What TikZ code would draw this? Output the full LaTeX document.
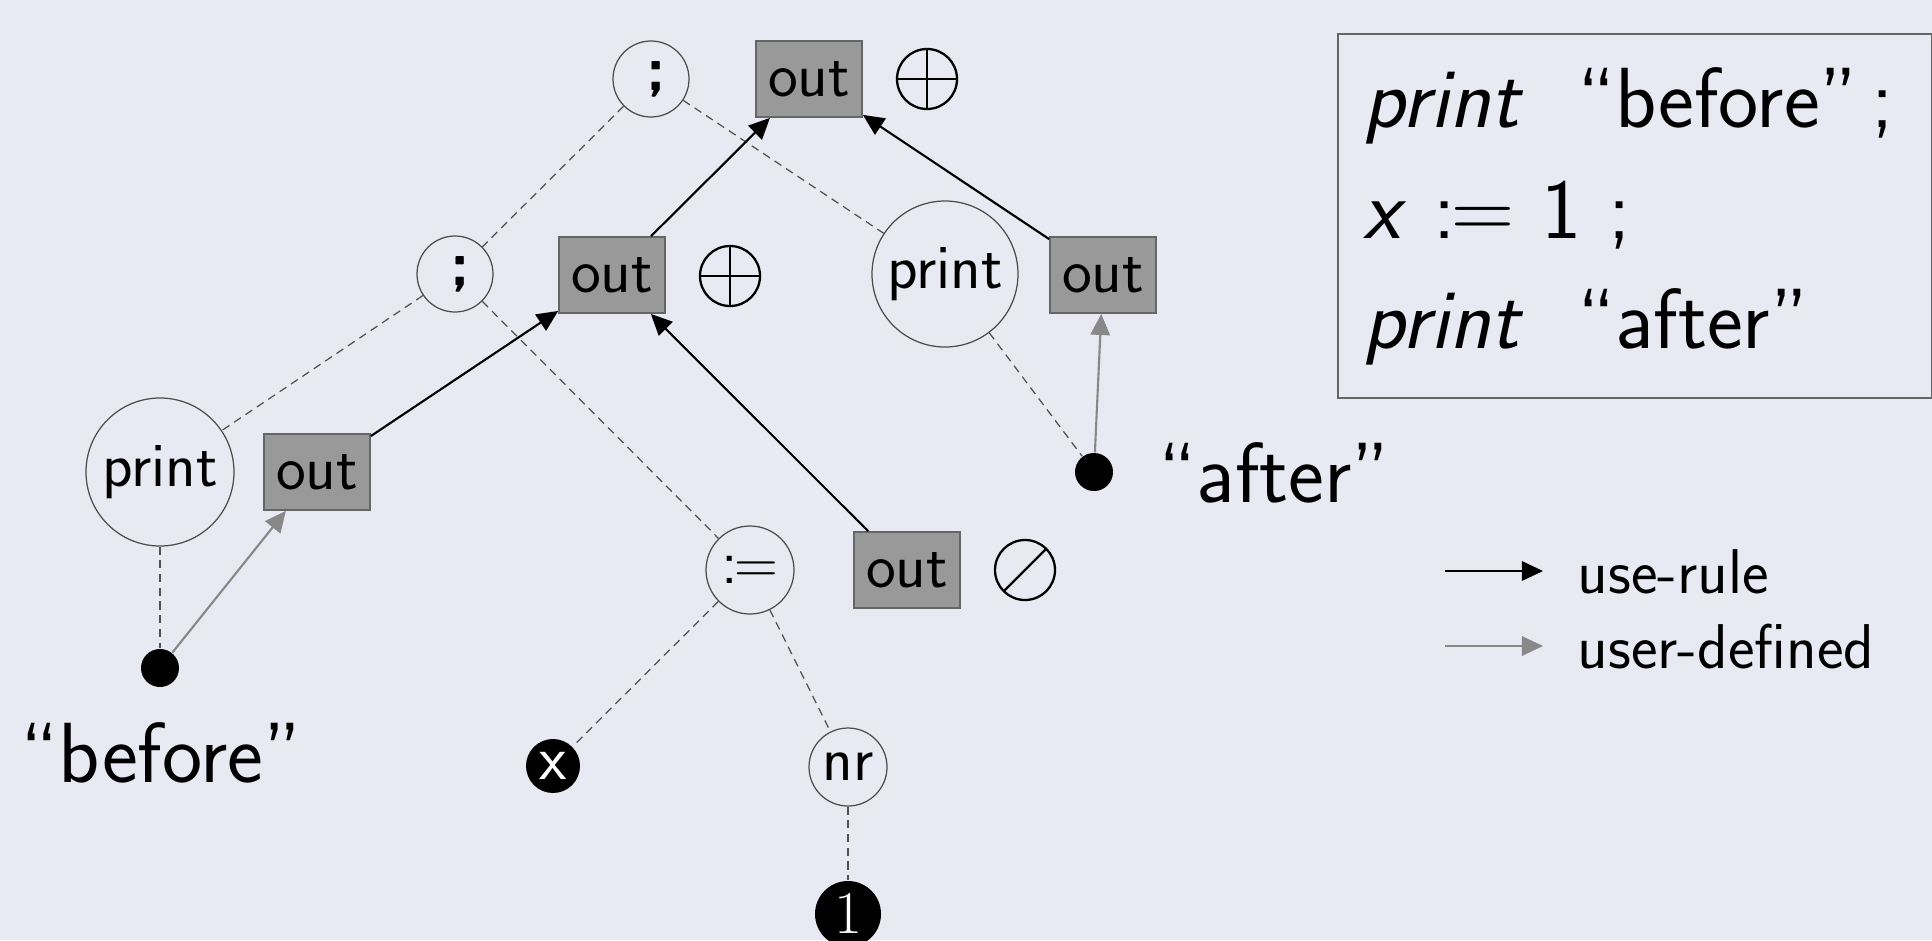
\documentclass[tikz,border=0pt]{standalone}
\usepackage{amssymb,amsmath}
\usepackage{tikz}
\usetikzlibrary{arrows.meta}

\definecolor{slidebg}{RGB}{233,233,243}
\definecolor{outgray}{RGB}{153,153,153}
\definecolor{usergray}{RGB}{136,136,136}
\definecolor{treegray}{RGB}{80,80,80}

\newcommand{\smallsz}{\fontsize{18}{21}\selectfont}
\newcommand{\bigsz}{\fontsize{24.3}{31}\selectfont}

\begin{document}
\begin{tikzpicture}[
            > = {Triangle[length=6pt,width=5.5pt]}, % arrow head style
            font = \sffamily\smallsz,
            ast/.style = {shape=circle, draw=black!70, line width=0.35pt, inner sep=0pt},
            outbox/.style = {shape=rectangle, draw=black!60, fill=outgray, line width=0.5pt,
                             minimum width=1.06cm, minimum height=0.76cm, inner sep=0pt},
            leaf/.style = {shape=circle, fill=black, text=white, inner sep=0pt},
            opnode/.style = {shape=circle, draw=black, line width=0.65pt, minimum size=0.6cm, inner sep=0pt},
            tree/.style = {color=treegray, line width=0.35pt, dash pattern=on 2.3pt off 1.6pt},
            userule/.style = {->, color=black, line width=0.6pt},
            userdef/.style = {->, color=usergray, line width=0.6pt}
        ]
\fill[slidebg] (0,0) rectangle (19.32,9.40);
\useasboundingbox (0,0) rectangle (19.32,9.40);

% syntax tree
\node[ast, minimum size=0.76cm] (semiTop) at (6.51,8.61) {\,\textbf{;}};
\node[ast, minimum size=0.76cm] (semiMid) at (4.55,6.66) {\,\textbf{;}};
\node[ast, minimum size=1.46cm] (printR) at (9.45,6.66) {print};
\node[ast, minimum size=1.48cm] (printL) at (1.60,4.68) {print};
\node[ast, minimum size=0.88cm] (assign) at (7.50,3.70) {:\kern-0.05em$=$};
\node[ast, minimum size=0.78cm] (nr) at (8.48,1.73) {nr};
\node[leaf, minimum size=0.38cm] (dotBefore) at (1.60,2.72) {};
\node[leaf, minimum size=0.38cm] (dotAfter) at (10.94,4.68) {};
\node[leaf, minimum size=0.54cm] (xleaf) at (5.53,1.74) {x};
\node[leaf, minimum size=0.66cm] (one) at (8.48,0.26) {$1$};

% attribute boxes
\node[outbox] (outTop) at (8.09,8.61) {out};
\node[outbox] (outMid) at (6.12,6.65) {out};
\node[outbox] (outR) at (11.03,6.65) {out};
\node[outbox] (outL) at (3.17,4.68) {out};
\node[outbox] (outB) at (9.07,3.70) {out};

% operators
\node[opnode, path picture={\draw (path picture bounding box.north) -- (path picture bounding box.south)
      (path picture bounding box.west) -- (path picture bounding box.east);}] (plusTop) at (9.27,8.61) {};
\node[opnode, path picture={\draw (path picture bounding box.north) -- (path picture bounding box.south)
      (path picture bounding box.west) -- (path picture bounding box.east);}] (plusMid) at (7.30,6.64) {};
\node[opnode, path picture={\draw (path picture bounding box.south west) -- (path picture bounding box.north east);}]
      (emptyB) at (10.25,3.70) {};

% strings
\node[anchor=base west, inner sep=0pt, font=\sffamily\bigsz] (afterText) at (11.58,4.38) {``after''};
\node[anchor=base west, inner sep=0pt, font=\sffamily\bigsz] (beforeText) at (0.20,1.58) {``before''};

 \path [tree] (semiTop) edge (semiMid);
 \path [tree] (semiTop) edge (printR);
 \path [tree] (semiMid) edge (printL);
 \path [tree] (semiMid) edge (assign);
 \path [tree] (assign) edge (xleaf);
 \path [tree] (assign) edge (nr);
 \path [tree] (nr) edge (one);
 \path [tree] (printL) edge (dotBefore);
 \path [tree] (printR) edge (dotAfter);

 \path [userule] (outMid) edge (outTop);
 \path [userule] (outR) edge (outTop);
 \path [userule] (outL) edge (outMid);
 \path [userule] (outB) edge (outMid);
 \path [userdef] (dotBefore) edge (outL);
 \path [userdef] (dotAfter) edge (outR);

% program
\node[draw=black!60, line width=0.5pt, anchor=north west, minimum width=5.94cm, minimum height=3.64cm,
      inner sep=0pt] (code) at (13.37,9.07) {};
\node[anchor=base west, inner sep=0pt, font=\sffamily\bigsz] (codeA) at (13.63,8.13) {\textit{print}\ \ ``before''\,;};
\node[anchor=base west, inner sep=0pt, font=\sffamily\bigsz] (codeB) at (13.63,7.02) {\textit{x} :\kern-0.05em$=$ 1 ;};
\node[anchor=base west, inner sep=0pt, font=\sffamily\bigsz] (codeC) at (13.63,5.92) {\textit{print}\ \ ``after''};

% legend
\coordinate (ruleA) at (14.45,3.69);
\coordinate (ruleB) at (15.43,3.69);
\coordinate (defA) at (14.45,2.94);
\coordinate (defB) at (15.43,2.94);
\node[anchor=base west, inner sep=0pt] (ruleText) at (15.77,3.47) {use-rule};
\node[anchor=base west, inner sep=0pt] (defText) at (15.77,2.72) {user-defined};
 \path [userule] (ruleA) edge (ruleB);
 \path [userdef] (defA) edge (defB);
\end{tikzpicture}
\end{document}
